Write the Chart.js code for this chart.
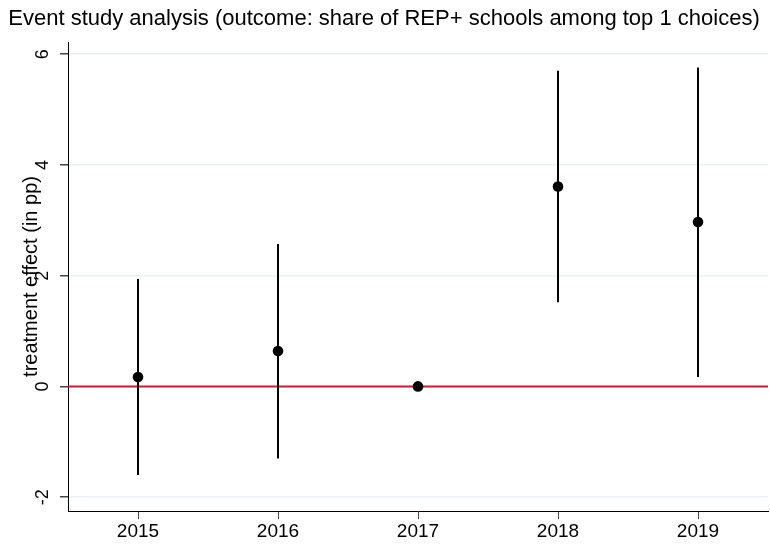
<!DOCTYPE html>
<html>
<head>
<meta charset="utf-8">
<script src="https://cdn.jsdelivr.net/npm/chart.js@4"></script>
<style>
  html, body { margin: 0; padding: 0; background: #fff; }
  #wrap { width: 770px; height: 546px; }
</style>
</head>
<body>
<div id="wrap"><canvas id="eventChart" width="770" height="546"></canvas></div>
<script>
// event study estimates (pp)
const years = [2015, 2016, 2017, 2018, 2019];
const estimates = [0.17, 0.64, 0, 3.61, 2.97];
const ciLow = [-1.60, -1.30, null, 1.52, 0.17];
const ciHigh = [1.94, 2.57, null, 5.70, 5.76];

const yTicks = [-2, 0, 2, 4, 6];
const xRange = [2014.5, 2019.5];
const yRange = [-2.25, 6.22];
const refLineY = 0;

const FONT = "'Liberation Sans', Arial, sans-serif";

// 95% CI whiskers as one line with breaks between years
const whiskerPoints = [];
years.forEach((yr, i) => {
  if (ciLow[i] == null) return;
  whiskerPoints.push({ x: yr, y: ciLow[i] }, { x: yr, y: ciHigh[i] }, { x: yr, y: null });
});

const pointData = years.map((yr, i) => ({ x: yr, y: estimates[i] }));
const refLine = xRange.map((x) => ({ x, y: refLineY }));

const ctx = document.getElementById('eventChart');
new Chart(ctx, {
  type: 'line',
  data: {
    datasets: [
      { label: 'estimate', data: pointData, showLine: false, pointRadius: 5.3, pointBackgroundColor: '#000', pointBorderWidth: 0, order: 0 },
      { label: 'ci', data: whiskerPoints, borderColor: '#000', borderWidth: 2, pointRadius: 0, spanGaps: false, order: 1 },
      { label: 'zero', data: refLine, borderColor: '#c41e3a', borderWidth: 2, pointRadius: 0, order: 2 },
    ],
  },
  options: {
    responsive: false,
    animation: false,
    devicePixelRatio: 1,
    layout: { autoPadding: false, padding: { left: 0, right: 2, top: 0, bottom: 0 } },
    plugins: {
      legend: { display: false },
      tooltip: { enabled: false },
      title: {
        display: true,
        text: 'Event study analysis (outcome: share of REP+ schools among top 1 choices)',
        color: '#000',
        font: { family: FONT, size: 22, weight: 'normal' },
        padding: { top: 6, bottom: 9.6 },
      },
    },
    scales: {
      x: {
        type: 'linear',
        min: xRange[0],
        max: xRange[1],
        afterBuildTicks(scale) { scale.ticks = years.map((v) => ({ value: v })); },
        afterFit(scale) { scale.height = 35; },
        ticks: {
          color: '#000',
          font: { family: FONT, size: 19 },
          padding: 1,
          maxRotation: 0,
          callback: (v) => String(v),
        },
        grid: { drawOnChartArea: false, drawTicks: true, tickLength: 8, tickColor: '#444' },
        border: { display: true, color: '#000', width: 1 },
      },
      y: {
        type: 'linear',
        min: yRange[0],
        max: yRange[1],
        afterBuildTicks(scale) { scale.ticks = yTicks.map((v) => ({ value: v })); },
        afterFit(scale) { scale.width = 68; },
        ticks: {
          color: '#000',
          font: { family: FONT, size: 18 },
          minRotation: 90,
          maxRotation: 90,
          crossAlign: 'center',
          padding: 9,
          callback: (v) => String(v),
        },
        grid: { color: '#e9f1f3', lineWidth: 1.5, drawTicks: true, tickLength: 8, tickColor: '#444' },
        border: { display: true, color: '#000', width: 1 },
        title: {
          display: true,
          text: 'treatment effect (in pp)',
          color: '#000',
          font: { family: FONT, size: 20 },
          padding: { top: 19, bottom: 0 },
        },
      },
    },
  },
});
</script>
</body>
</html>
